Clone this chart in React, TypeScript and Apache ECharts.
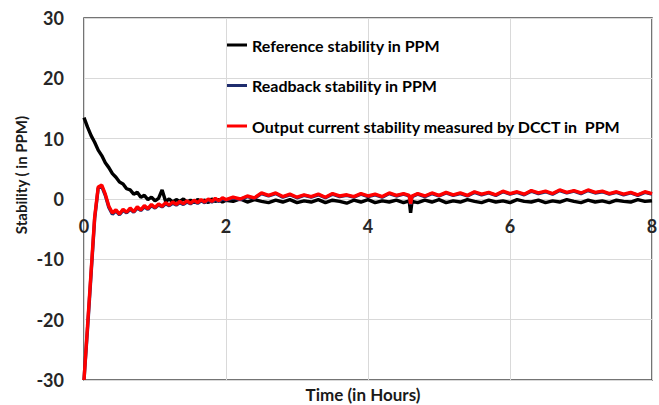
import React, { useEffect, useRef } from "react";
import * as echarts from "echarts";

const hours = [
  0, 0.05, 0.1, 0.15, 0.2, 0.25, 0.3, 0.35, 0.4, 0.45, 0.5, 0.55, 0.6, 0.65, 0.7, 0.75, 0.8, 0.85, 0.9, 0.95,
  1, 1.05, 1.1, 1.15, 1.2, 1.25, 1.3, 1.35, 1.4, 1.45, 1.5, 1.55, 1.6, 1.65, 1.7, 1.75, 1.8, 1.85, 1.9, 1.95, 2,
  2.1, 2.2, 2.3, 2.4, 2.5, 2.6, 2.7, 2.8, 2.9, 3, 3.1, 3.2, 3.3, 3.4, 3.5, 3.6, 3.7, 3.8, 3.9, 4,
  4.1, 4.2, 4.3, 4.4, 4.5, 4.58, 4.6, 4.62,
  4.7, 4.8, 4.9, 5, 5.1, 5.2, 5.3, 5.4, 5.5, 5.6, 5.7, 5.8, 5.9, 6, 6.1, 6.2, 6.3, 6.4, 6.5, 6.6, 6.7, 6.8, 6.9, 7,
  7.1, 7.2, 7.3, 7.4, 7.5, 7.6, 7.7, 7.8, 7.9, 8,
];

const referencePPM = [
  13.5, 11.9, 10.5, 9.4, 8.1, 7.2, 6.0, 5.2, 4.2, 3.6, 2.8, 2.5, 1.7, 1.5, 0.8, 1.1, 0.3, 0.6, -0.1, 0.3,
  -0.3, 0.1, 1.5, -0.4, 0.0, -0.5, -0.1, -0.4, 0.0, -0.5, -0.2, -0.6, -0.1, -0.4, -0.2, -0.6, 0.0, -0.4, -0.1, -0.5, -0.2,
  -0.4, 0.0, -0.5, -0.1, -0.4, -0.6, -0.2, -0.5, -0.1, -0.6, -0.3, -0.5, -0.1, -0.6, -0.2, -0.4, -0.7, -0.2, -0.5, -0.1,
  -0.6, -0.3, -0.5, -0.2, -0.6, -0.3, -2.3, -0.4,
  -0.6, -0.2, -0.5, -0.1, -0.6, -0.3, -0.5, -0.1, -0.4, -0.6, -0.2, -0.5, -0.3, -0.6, -0.1, -0.4, -0.5, -0.2, -0.6, -0.3,
  -0.5, -0.1, -0.4, -0.6, -0.2, -0.5, -0.3, -0.6, -0.2, -0.4, -0.5, -0.1, -0.4, -0.3,
];

const readbackPPM = [
  -30, -21.5, -12.4, -3.3, 1.8, 2.1, 0.6, -1.4, -2.5, -2.0, -2.6, -1.9, -2.3, -1.7, -2.2, -1.5, -1.9, -1.3, -1.7, -1.1,
  -1.5, -1.0, -1.3, -0.8, -1.1, -0.7, -1.0, -0.6, -0.9, -0.5, -0.8, -0.4, -0.7, -0.3, -0.6, -0.2, -0.5, -0.1, -0.4, 0.0, -0.2,
  0.2, -0.1, 0.4, 0.1, 0.9, 0.5, 0.9, 0.3, 0.7, 0.2, 0.6, 0.3, 0.7, 0.2, 0.8, 0.4, 0.6, 0.3, 0.8, 0.4,
  0.7, 0.3, 0.9, 0.5, 0.8, 0.5, -0.9, 0.4,
  0.8, 0.4, 0.9, 0.5, 1.0, 0.6, 0.9, 0.5, 1.1, 0.7, 1.0, 0.6, 1.2, 0.8, 1.1, 0.7, 1.3, 0.9, 1.2, 0.8,
  1.4, 1.0, 1.3, 0.9, 1.4, 1.0, 1.2, 0.8, 1.1, 0.7, 1.0, 0.6, 1.1, 0.8,
];

const outputPPM = [
  -30, -21, -12, -3, 2.0, 2.3, 0.8, -1.2, -2.3, -1.8, -2.5, -1.7, -2.2, -1.5, -2.1, -1.3, -1.8, -1.1, -1.6, -0.9,
  -1.4, -0.8, -1.2, -0.6, -1.0, -0.5, -0.9, -0.4, -0.8, -0.3, -0.7, -0.2, -0.6, -0.1, -0.5, 0.0, -0.4, 0.1, -0.3, 0.2, -0.1,
  0.3, 0.0, 0.5, 0.2, 1.0, 0.6, 1.0, 0.4, 0.8, 0.3, 0.7, 0.4, 0.8, 0.3, 0.9, 0.5, 0.7, 0.4, 0.9, 0.5,
  0.8, 0.4, 1.0, 0.6, 0.9, 0.6, -0.8, 0.5,
  0.9, 0.5, 1.0, 0.6, 1.1, 0.7, 1.0, 0.6, 1.2, 0.8, 1.1, 0.7, 1.3, 0.9, 1.2, 0.8, 1.4, 1.0, 1.3, 0.9,
  1.5, 1.1, 1.4, 1.0, 1.5, 1.1, 1.3, 0.9, 1.2, 0.8, 1.1, 0.7, 1.2, 0.9,
];

const seriesNames = [
  "Reference stability in PPM",
  "Readback stability in PPM",
  "Output current stability measured by DCCT in  PPM",
];
const seriesColors = ["#000000", "#1f2d6e", "#ff0000"];
const xTitle = "Time (in Hours)";
const yTitle = "Stability ( in PPM)";

const FONT = "Lato, 'Open Sans', 'Noto Sans', sans-serif";

export default function App() {
  const ref = useRef<HTMLDivElement>(null);
  useEffect(() => {
    if (!ref.current) return;
    const chart = echarts.init(ref.current, undefined, { renderer: "svg" });
    const values = [referencePPM, readbackPPM, outputPPM];
    chart.setOption({
      animation: false,
      backgroundColor: "#ffffff",
      textStyle: { fontFamily: FONT },
      grid: {
        left: 84,
        right: 7,
        top: 18,
        bottom: 25,
        outerBoundsMode: "none",
        containLabel: false,
        show: true,
        borderColor: "#474747",
        borderWidth: 1.5,
        backgroundColor: "transparent",
      },
      legend: {
        orient: "vertical",
        left: 222,
        top: 32,
        itemGap: 24.5,
        itemWidth: 20,
        itemHeight: 3,
        icon: "rect",
        data: seriesNames,
        textStyle: { fontFamily: FONT, fontWeight: "bold", fontSize: 16, color: "#000" },
      },
      xAxis: {
        type: "value",
        min: 0,
        max: 8,
        interval: 2,
        position: "bottom",
        offset: -181,
        axisLine: { show: false, onZero: false },
        axisTick: { show: false },
        axisLabel: { fontFamily: FONT, fontWeight: "bold", fontSize: 18, color: "#262626", margin: 18 },
        splitLine: { show: true, lineStyle: { color: "#d9d9d9", width: 1 } },
      },
      yAxis: {
        type: "value",
        min: -30,
        max: 30,
        interval: 10,
        axisLine: { show: false, onZero: false },
        axisTick: { show: false },
        axisLabel: { fontFamily: FONT, fontWeight: "bold", fontSize: 18, color: "#262626", margin: 20 },
        splitLine: { show: true, lineStyle: { color: "#d9d9d9", width: 1 } },
      },
      graphic: [
        {
          type: "text",
          x: 363,
          y: 394,
          style: {
            text: xTitle,
            fontFamily: FONT,
            fontWeight: "bold",
            fontSize: 17,
            fill: "#1a1a1a",
            align: "center",
            verticalAlign: "middle",
          },
        },
        {
          type: "text",
          x: 21,
          y: 175,
          rotation: Math.PI / 2,
          style: {
            text: yTitle,
            fontFamily: FONT,
            fontWeight: "bold",
            fontSize: 15,
            fill: "#1a1a1a",
            align: "center",
            verticalAlign: "middle",
          },
        },
      ],
      series: seriesNames.map((name, k) => ({
        name,
        type: "line",
        showSymbol: false,
        symbol: "none",
        z: 2 + k,
        color: seriesColors[k],
        lineStyle: { color: seriesColors[k], width: 3.4 },
        data: hours.map((h, i) => [h, values[k][i]]),
      })),
    });
    return () => chart.dispose();
  }, []);
  return (
    <div
      ref={ref}
      style={{ position: "fixed", left: 0, top: 0, width: 659, height: 405, background: "#fff" }}
    />
  );
}
